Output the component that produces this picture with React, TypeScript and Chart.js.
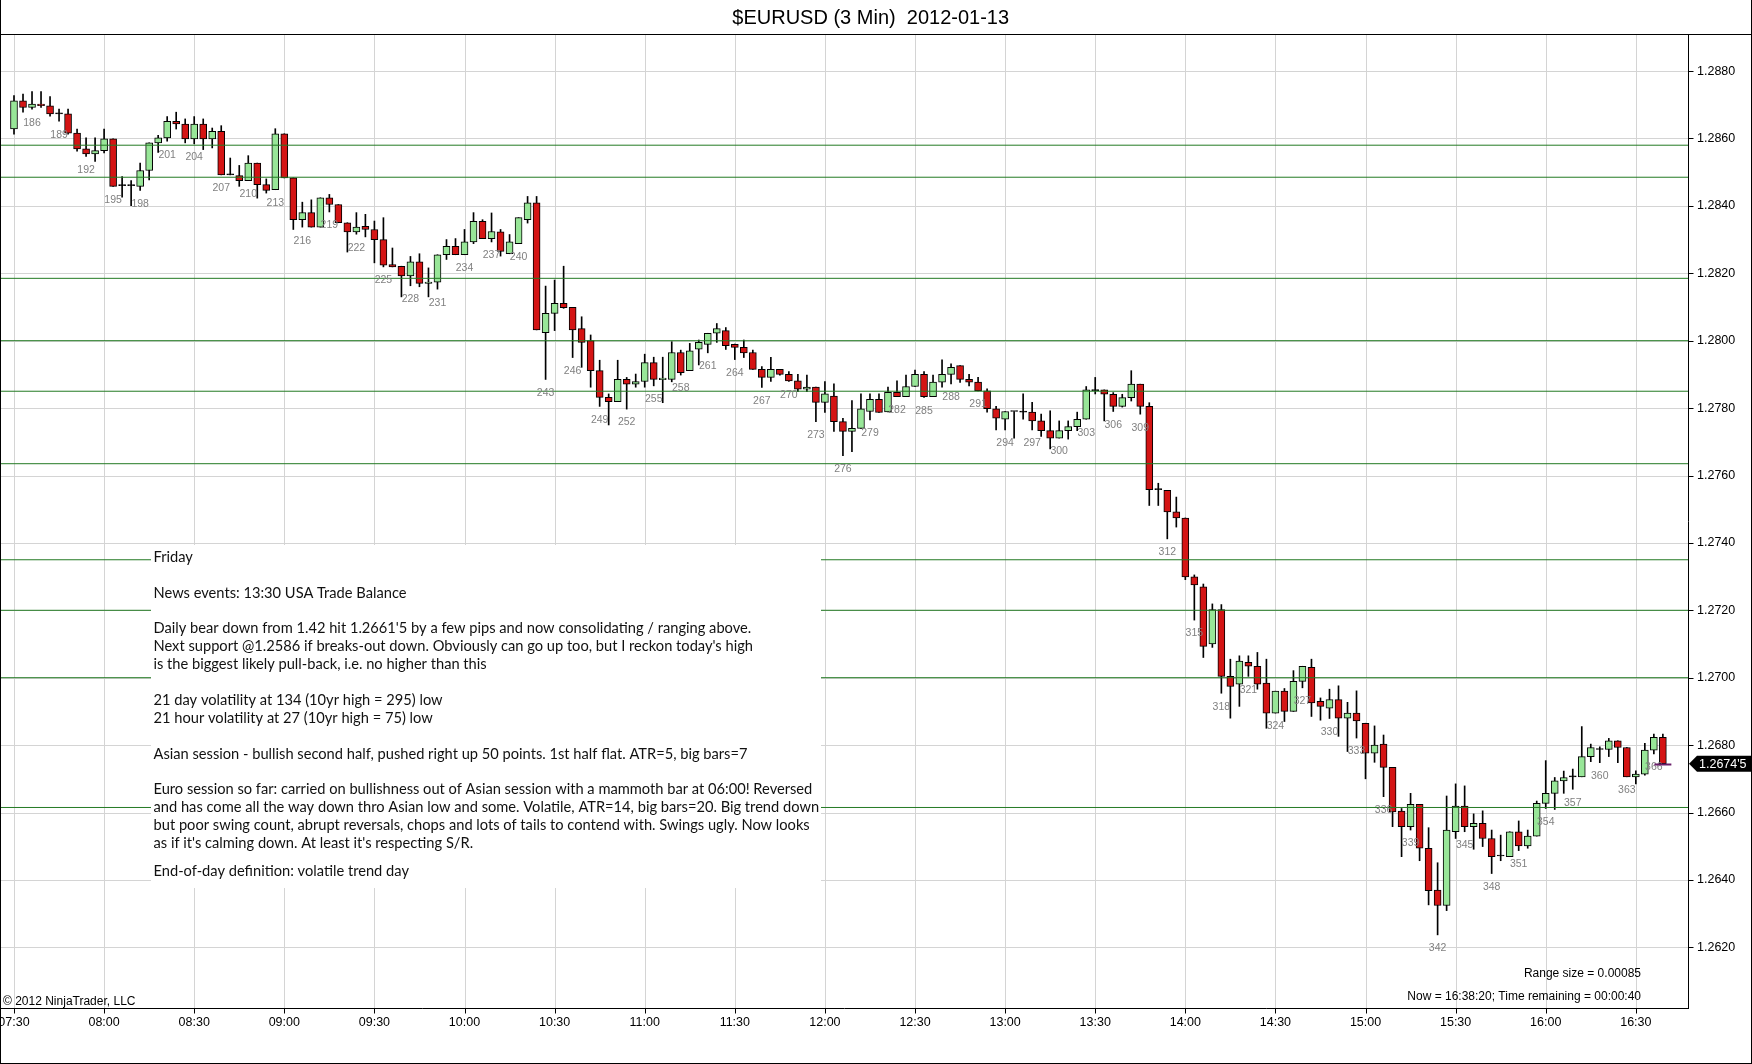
import React, { useEffect, useRef } from 'react';
import { Chart, registerables } from 'chart.js';

Chart.register(...registerables);

// ---------------- DATA ----------------
const FIRST_BAR_NUMBER = 184;
const BARS_PER_TIME_TICK = 10;

const openPrices = [
  1.28628, 1.28712, 1.28692, 1.28702, 1.28697, 1.28673, 1.28673, 1.28616, 1.28569, 1.28554,
  1.28564, 1.28599, 1.28460, 1.28460, 1.28458, 1.28505, 1.28587, 1.28602, 1.28651, 1.28643,
  1.28599, 1.28643, 1.28599, 1.28621, 1.28492, 1.28490, 1.28475, 1.28527, 1.28463, 1.28448,
  1.28614, 1.28483, 1.28359, 1.28380, 1.28337, 1.28424, 1.28404, 1.28350, 1.28323, 1.28339,
  1.28330, 1.28300, 1.28226, 1.28221, 1.28192, 1.28234, 1.28170, 1.28174, 1.28255, 1.28280,
  1.28255, 1.28293, 1.28354, 1.28303, 1.28323, 1.28258, 1.28288, 1.28359, 1.28409, 1.28024,
  1.28081, 1.28111, 1.28099, 1.28036, 1.28000, 1.27911, 1.27832, 1.27819, 1.27885, 1.27871,
  1.27879, 1.27935, 1.27884, 1.27885, 1.27965, 1.27911, 1.27975, 1.27989, 1.28022, 1.28030,
  1.27989, 1.27980, 1.27965, 1.27915, 1.27891, 1.27915, 1.27900, 1.27881, 1.27856, 1.27862,
  1.27817, 1.27836, 1.27760, 1.27731, 1.27740, 1.27790, 1.27826, 1.27789, 1.27847, 1.27834,
  1.27864, 1.27900, 1.27834, 1.27877, 1.27900, 1.27926, 1.27885, 1.27877, 1.27851, 1.27798,
  1.27767, 1.27790, 1.27788, 1.27788, 1.27762, 1.27733, 1.27711, 1.27733, 1.27745, 1.27767,
  1.27852, 1.27854, 1.27841, 1.27805, 1.27831, 1.27871, 1.27805, 1.27558, 1.27556, 1.27492,
  1.27474, 1.27299, 1.27270, 1.27100, 1.27202, 1.27004, 1.26981, 1.27046, 1.27034, 1.26984,
  1.26895, 1.26960, 1.26900, 1.26989, 1.27031, 1.26930, 1.26910, 1.26935, 1.26880, 1.26895,
  1.26865, 1.26776, 1.26803, 1.26734, 1.26604, 1.26558, 1.26624, 1.26494, 1.26370, 1.26324,
  1.26543, 1.26619, 1.26558, 1.26568, 1.26523, 1.26471, 1.26469, 1.26543, 1.26501, 1.26530,
  1.26627, 1.26657, 1.26694, 1.26706, 1.26706, 1.26766, 1.26787, 1.26787, 1.26813, 1.26793,
  1.26706, 1.26714, 1.26785, 1.26823,
];

const highPrices = [
  1.28727, 1.28732, 1.28739, 1.28739, 1.28724, 1.28687, 1.28687, 1.28628, 1.28602, 1.28602,
  1.28628, 1.28599, 1.28487, 1.28475, 1.28527, 1.28587, 1.28609, 1.28665, 1.28678, 1.28658,
  1.28665, 1.28658, 1.28631, 1.28638, 1.28542, 1.28520, 1.28549, 1.28527, 1.28480, 1.28629,
  1.28614, 1.28483, 1.28411, 1.28418, 1.28424, 1.28434, 1.28404, 1.28350, 1.28380, 1.28375,
  1.28355, 1.28365, 1.28275, 1.28221, 1.28250, 1.28258, 1.28216, 1.28255, 1.28300, 1.28303,
  1.28330, 1.28380, 1.28359, 1.28379, 1.28330, 1.28315, 1.28365, 1.28428, 1.28428, 1.28162,
  1.28180, 1.28221, 1.28099, 1.28071, 1.28017, 1.27942, 1.27842, 1.27942, 1.27891, 1.27901,
  1.27960, 1.27951, 1.27951, 1.27997, 1.27972, 1.27992, 1.28002, 1.28022, 1.28051, 1.28039,
  1.27990, 1.28002, 1.27972, 1.27923, 1.27951, 1.27915, 1.27908, 1.27900, 1.27898, 1.27862,
  1.27879, 1.27872, 1.27770, 1.27822, 1.27842, 1.27842, 1.27842, 1.27862, 1.27881, 1.27898,
  1.27913, 1.27908, 1.27898, 1.27943, 1.27931, 1.27926, 1.27900, 1.27891, 1.27857, 1.27805,
  1.27790, 1.27790, 1.27842, 1.27817, 1.27782, 1.27792, 1.27762, 1.27762, 1.27788, 1.27864,
  1.27891, 1.27854, 1.27846, 1.27841, 1.27911, 1.27871, 1.27816, 1.27577, 1.27556, 1.27536,
  1.27474, 1.27305, 1.27278, 1.27219, 1.27217, 1.27055, 1.27065, 1.27065, 1.27075, 1.27055,
  1.26960, 1.26968, 1.27021, 1.27034, 1.27055, 1.26940, 1.26966, 1.26976, 1.26927, 1.26961,
  1.26865, 1.26857, 1.26830, 1.26734, 1.26612, 1.26657, 1.26624, 1.26555, 1.26451, 1.26649,
  1.26685, 1.26679, 1.26596, 1.26605, 1.26548, 1.26533, 1.26543, 1.26575, 1.26548, 1.26634,
  1.26754, 1.26704, 1.26723, 1.26729, 1.26855, 1.26803, 1.26795, 1.26820, 1.26813, 1.26793,
  1.26724, 1.26805, 1.26833, 1.26833,
];

const lowPrices = [
  1.28613, 1.28678, 1.28687, 1.28692, 1.28666, 1.28651, 1.28613, 1.28562, 1.28547, 1.28532,
  1.28557, 1.28458, 1.28426, 1.28401, 1.28446, 1.28477, 1.28559, 1.28592, 1.28628, 1.28587,
  1.28584, 1.28567, 1.28572, 1.28492, 1.28492, 1.28458, 1.28475, 1.28423, 1.28438, 1.28448,
  1.28483, 1.28330, 1.28337, 1.28337, 1.28337, 1.28382, 1.28350, 1.28263, 1.28316, 1.28308,
  1.28231, 1.28219, 1.28219, 1.28130, 1.28163, 1.28160, 1.28130, 1.28153, 1.28241, 1.28255,
  1.28255, 1.28288, 1.28303, 1.28293, 1.28251, 1.28258, 1.28288, 1.28349, 1.28032, 1.27885,
  1.28030, 1.28096, 1.27950, 1.27921, 1.27862, 1.27805, 1.27750, 1.27819, 1.27797, 1.27862,
  1.27862, 1.27866, 1.27816, 1.27878, 1.27898, 1.27911, 1.27928, 1.27964, 1.27995, 1.27974,
  1.27944, 1.27950, 1.27915, 1.27861, 1.27879, 1.27898, 1.27879, 1.27849, 1.27849, 1.27760,
  1.27787, 1.27731, 1.27659, 1.27671, 1.27740, 1.27765, 1.27787, 1.27789, 1.27834, 1.27834,
  1.27864, 1.27832, 1.27834, 1.27862, 1.27872, 1.27876, 1.27866, 1.27851, 1.27788, 1.27735,
  1.27735, 1.27711, 1.27767, 1.27735, 1.27716, 1.27679, 1.27711, 1.27708, 1.27733, 1.27767,
  1.27842, 1.27762, 1.27790, 1.27803, 1.27821, 1.27782, 1.27511, 1.27511, 1.27412, 1.27447,
  1.27291, 1.27171, 1.27060, 1.27090, 1.26954, 1.26880, 1.26915, 1.27004, 1.26966, 1.26850,
  1.26895, 1.26870, 1.26900, 1.26970, 1.26885, 1.26874, 1.26879, 1.26826, 1.26781, 1.26821,
  1.26700, 1.26749, 1.26647, 1.26558, 1.26469, 1.26548, 1.26457, 1.26326, 1.26237, 1.26309,
  1.26523, 1.26543, 1.26491, 1.26499, 1.26419, 1.26457, 1.26469, 1.26487, 1.26494, 1.26530,
  1.26612, 1.26609, 1.26657, 1.26669, 1.26706, 1.26751, 1.26748, 1.26766, 1.26748, 1.26706,
  1.26685, 1.26711, 1.26774, 1.26745,
];

const closePrices = [
  1.28712, 1.28692, 1.28702, 1.28697, 1.28673, 1.28673, 1.28616, 1.28569, 1.28554, 1.28564,
  1.28599, 1.28458, 1.28460, 1.28460, 1.28505, 1.28587, 1.28602, 1.28651, 1.28643, 1.28599,
  1.28643, 1.28599, 1.28621, 1.28492, 1.28492, 1.28475, 1.28527, 1.28463, 1.28446, 1.28614,
  1.28483, 1.28359, 1.28380, 1.28337, 1.28424, 1.28404, 1.28350, 1.28323, 1.28337, 1.28330,
  1.28300, 1.28224, 1.28219, 1.28192, 1.28234, 1.28170, 1.28174, 1.28255, 1.28280, 1.28255,
  1.28293, 1.28354, 1.28303, 1.28324, 1.28265, 1.28293, 1.28365, 1.28409, 1.28032, 1.28081,
  1.28111, 1.28098, 1.28032, 1.27995, 1.27911, 1.27832, 1.27819, 1.27885, 1.27871, 1.27879,
  1.27935, 1.27885, 1.27889, 1.27965, 1.27905, 1.27970, 1.27995, 1.28022, 1.28036, 1.27985,
  1.27980, 1.27964, 1.27915, 1.27891, 1.27915, 1.27900, 1.27881, 1.27856, 1.27862, 1.27817,
  1.27842, 1.27760, 1.27731, 1.27740, 1.27798, 1.27826, 1.27787, 1.27847, 1.27834, 1.27864,
  1.27900, 1.27834, 1.27877, 1.27900, 1.27921, 1.27885, 1.27877, 1.27851, 1.27798, 1.27770,
  1.27790, 1.27790, 1.27788, 1.27762, 1.27733, 1.27711, 1.27733, 1.27745, 1.27767, 1.27854,
  1.27852, 1.27841, 1.27805, 1.27831, 1.27871, 1.27805, 1.27558, 1.27558, 1.27492, 1.27474,
  1.27299, 1.27275, 1.27093, 1.27202, 1.27004, 1.26974, 1.27049, 1.27034, 1.26981, 1.26895,
  1.26960, 1.26900, 1.26989, 1.27034, 1.26925, 1.26915, 1.26935, 1.26880, 1.26895, 1.26872,
  1.26776, 1.26800, 1.26734, 1.26602, 1.26558, 1.26624, 1.26494, 1.26368, 1.26324, 1.26548,
  1.26619, 1.26558, 1.26568, 1.26523, 1.26469, 1.26471, 1.26543, 1.26501, 1.26530, 1.26627,
  1.26657, 1.26694, 1.26704, 1.26706, 1.26766, 1.26793, 1.26787, 1.26813, 1.26793, 1.26706,
  1.26714, 1.26785, 1.26823, 1.26745,
];

const timeTickLabels = [
  '07:30', '08:00', '08:30', '09:00', '09:30', '10:00', '10:30', '11:00', '11:30', '12:00',
  '12:30', '13:00', '13:30', '14:00', '14:30', '15:00', '15:30', '16:00', '16:30',
];

const priceTickLabels = [
  '1.2620', '1.2640', '1.2660', '1.2680', '1.2700', '1.2720', '1.2740',
  '1.2760', '1.2780', '1.2800', '1.2820', '1.2840', '1.2860', '1.2880',
];

const srLevels = [1.2858, 1.28485, 1.28185, 1.28, 1.2785, 1.27635, 1.2735, 1.272, 1.27, 1.26615];

const lastPriceLabel = "1.2674'5";
const titleText = '$EURUSD (3 Min)  2012-01-13';
const copyrightText = '\u00A9 2012 NinjaTrader, LLC';
const rangeText = 'Range size = 0.00085';
const nowText = 'Now = 16:38:20; Time remaining = 00:00:40';

const noteLines = [
  'Friday',
  '',
  'News events: 13:30 USA Trade Balance',
  '',
  "Daily bear down from 1.42 hit 1.2661'5 by a few pips and now consolidating / ranging above.",
  "Next support @1.2586 if breaks-out down. Obviously can go up too, but I reckon today's high",
  'is the biggest likely pull-back, i.e. no higher than this',
  '',
  '21 day volatility at 134 (10yr high = 295) low',
  '21 hour volatility at 27 (10yr high = 75) low',
  '',
  'Asian session - bullish second half, pushed right up 50 points. 1st half flat. ATR=5, big bars=7',
  '',
  'Euro session so far: carried on bullishness out of Asian session with a mammoth bar at 06:00! Reversed',
  'and has come all the way down thro Asian low and some. Volatile, ATR=14, big bars=20. Big trend down',
  'but poor swing count, abrupt reversals, chops and lots of tails to contend with. Swings ugly. Now looks',
  "as if it's calming down. At least it's respecting S/R.",
];
const noteFooter = 'End-of-day definition: volatile trend day';

// ---------------- LAYOUT / STYLE ----------------
const W = 1752;
const H = 1064;
const PLOT_TOP = 34;
const PLOT_RIGHT = 1688;
const PLOT_BOTTOM = 1008;
const TICK_LEN = 5;
const X_MIN = -1.554;
const X_MAX = 185.79;
const Y_MIN = 1.2602;
const Y_MAX = 1.2891;
const FONT = '"Liberation Sans", Arial, sans-serif';
const UP = '#98e698';
const DOWN = '#d41414';
const SR_COLOR = '#237a23';
const GRID = '#d4d4d4';

const decoPlugin = {
  id: 'deco',
  beforeDraw(chart: any) {
    const ctx = chart.ctx;
    ctx.save();
    ctx.fillStyle = '#fff';
    ctx.fillRect(0, 0, chart.width, chart.height);
    ctx.restore();
  },
  beforeDatasetsDraw(chart: any) {
    const ctx = chart.ctx;
    const xs = chart.scales.x;
    const ys = chart.scales.y;
    const a = chart.chartArea;
    ctx.save();
    ctx.lineWidth = 1;
    ctx.strokeStyle = GRID;
    ctx.beginPath();
    xs.ticks.forEach((t: any) => {
      const px = Math.round(xs.getPixelForValue(t.value)) + 0.5;
      if (px < a.left || px > a.right) return;
      ctx.moveTo(px, a.top);
      ctx.lineTo(px, a.bottom);
    });
    ys.ticks.forEach((t: any) => {
      const py = Math.round(ys.getPixelForValue(t.value)) + 0.5;
      if (py < a.top || py > a.bottom) return;
      ctx.moveTo(a.left, py);
      ctx.lineTo(a.right, py);
    });
    ctx.stroke();
    ctx.strokeStyle = '#000';
    ctx.beginPath();
    xs.ticks.forEach((t: any) => {
      const px = Math.round(xs.getPixelForValue(t.value)) + 0.5;
      if (px < a.left || px > a.right) return;
      ctx.moveTo(px, a.bottom);
      ctx.lineTo(px, a.bottom + TICK_LEN + 0.5);
    });
    ys.ticks.forEach((t: any) => {
      const py = Math.round(ys.getPixelForValue(t.value)) + 0.5;
      ctx.moveTo(a.right, py);
      ctx.lineTo(a.right + TICK_LEN + 0.5, py);
    });
    ctx.moveTo(a.left, Math.round(a.bottom) + 0.5);
    ctx.lineTo(a.right + 1, Math.round(a.bottom) + 0.5);
    ctx.moveTo(Math.round(a.right) + 0.5, a.top);
    ctx.lineTo(Math.round(a.right) + 0.5, a.bottom + 1);
    ctx.stroke();
    ctx.restore();
  },
  afterDatasetsDraw(chart: any) {
    const ctx = chart.ctx;
    const xs = chart.scales.x;
    const ys = chart.scales.y;
    const area = chart.chartArea;
    ctx.save();
    ctx.beginPath();
    ctx.rect(area.left, area.top, area.right - area.left, area.bottom - area.top);
    ctx.clip();
    ctx.fillStyle = '#808080';
    ctx.font = `10.5px ${FONT}`;
    ctx.textAlign = 'center';
    ctx.textBaseline = 'middle';
    lowPrices.forEach((lo, i) => {
      const n = FIRST_BAR_NUMBER + i;
      if (n % 3 !== 0) return;
      ctx.fillText(String(n), xs.getPixelForValue(i), ys.getPixelForValue(lo) + 13.5);
    });
    const last = closePrices.length - 1;
    const lx = xs.getPixelForValue(last);
    const ly = Math.round(ys.getPixelForValue(closePrices[last])) + 0.5;
    ctx.strokeStyle = '#6b1f6b';
    ctx.lineWidth = 2;
    ctx.beginPath();
    ctx.moveTo(lx - 8.5, ly);
    ctx.lineTo(lx + 8.5, ly);
    ctx.stroke();
    ctx.restore();

    // note box
    ctx.save();
    ctx.fillStyle = '#fff';
    ctx.fillRect(151, 545, 670, 343);
    const target = 659;
    ctx.font = `100px Lato, ${FONT}`;
    const w = ctx.measureText(noteLines[13]).width;
    const size = (100 * target) / w;
    ctx.font = `${size}px Lato, ${FONT}`;
    ctx.fillStyle = '#111';
    ctx.textAlign = 'left';
    ctx.textBaseline = 'alphabetic';
    const lh = 17.9;
    noteLines.forEach((t, k) => {
      if (t) ctx.fillText(t, 153.5, 561.7 + k * lh);
    });
    ctx.fillText(noteFooter, 153.5, 561.7 + (noteLines.length + 0.55) * lh);
    ctx.restore();
  },
  afterDraw(chart: any) {
    const ctx = chart.ctx;
    const ys = chart.scales.y;
    ctx.save();
    ctx.strokeStyle = '#000';
    ctx.lineWidth = 1;
    ctx.beginPath();
    ctx.moveTo(0.5, 0);
    ctx.lineTo(0.5, H);
    ctx.moveTo(W - 0.5, 0);
    ctx.lineTo(W - 0.5, H);
    ctx.moveTo(0, H - 0.5);
    ctx.lineTo(W, H - 0.5);
    ctx.moveTo(0, PLOT_TOP + 0.5);
    ctx.lineTo(W, PLOT_TOP + 0.5);
    ctx.stroke();
    ctx.fillStyle = '#000';
    ctx.font = `20px ${FONT}`;
    ctx.textAlign = 'center';
    ctx.textBaseline = 'alphabetic';
    ctx.fillText(titleText, 870.7, 24);
    ctx.font = `12px ${FONT}`;
    ctx.textAlign = 'left';
    ctx.fillText(copyrightText, 3, 1005);
    ctx.textAlign = 'right';
    ctx.fillText(rangeText, 1641, 977);
    ctx.fillText(nowText, 1641, 999.5);
    const last = closePrices.length - 1;
    const py = ys.getPixelForValue(closePrices[last]);
    ctx.fillStyle = '#000';
    ctx.beginPath();
    ctx.moveTo(PLOT_RIGHT + 1, py);
    ctx.lineTo(PLOT_RIGHT + 9, py - 8);
    ctx.lineTo(W, py - 8);
    ctx.lineTo(W, py + 8);
    ctx.lineTo(PLOT_RIGHT + 9, py + 8);
    ctx.closePath();
    ctx.fill();
    ctx.fillStyle = '#fff';
    ctx.font = `12.5px ${FONT}`;
    ctx.textAlign = 'left';
    ctx.textBaseline = 'middle';
    ctx.fillText(lastPriceLabel, PLOT_RIGHT + 11, py + 0.5);
    ctx.restore();
  },
};

export default function App() {
  const ref = useRef<HTMLCanvasElement | null>(null);

  useEffect(() => {
    if (!ref.current) return;
    const idx = openPrices.map((_, i) => i);
    const bodyColors = idx.map((i) =>
      closePrices[i] > openPrices[i] ? UP : closePrices[i] < openPrices[i] ? DOWN : '#000'
    );
    const srDatasets = srLevels.map((lvl) => ({
      type: 'line' as const,
      data: [
        { x: X_MIN, y: lvl },
        { x: X_MAX, y: lvl },
      ],
      borderColor: SR_COLOR,
      backgroundColor: SR_COLOR,
      borderWidth: 1,
      pointRadius: 0,
      fill: false,
      order: 0,
    }));
    const chart = new Chart(ref.current, {
      type: 'bar',
      data: {
        datasets: [
          {
            type: 'bar',
            label: 'wick',
            data: idx.map((i) => ({ x: i, y: [lowPrices[i], highPrices[i]] })),
            backgroundColor: '#000',
            borderWidth: 0,
            barThickness: 1,
            grouped: false,
            order: 2,
          } as any,
          {
            type: 'bar',
            label: 'body',
            data: idx.map((i) => ({ x: i, y: [openPrices[i], closePrices[i]] })),
            backgroundColor: bodyColors,
            borderColor: '#000',
            borderWidth: 1,
            borderSkipped: false,
            barThickness: 7,
            minBarLength: 1,
            grouped: false,
            order: 1,
          } as any,
          ...(srDatasets as any[]),
        ],
      },
      options: {
        animation: false,
        responsive: false,
        devicePixelRatio: 1,
        layout: { padding: { top: PLOT_TOP, left: 0, right: 0, bottom: 1 } },
        plugins: {
          legend: { display: false },
          tooltip: { enabled: false },
          title: { display: false },
        },
        scales: {
          x: {
            type: 'linear',
            min: X_MIN,
            max: X_MAX,
            offset: false,
            grid: { display: false, drawTicks: true, tickLength: TICK_LEN, offset: false },
            border: { display: false },
            ticks: {
              autoSkip: false,
              maxRotation: 0,
              minRotation: 0,
              includeBounds: false,
              color: '#000',
              padding: 2,
              font: { size: 12.5, family: FONT },
              callback: (_v: any, i: number) => timeTickLabels[i],
            },
            afterBuildTicks: (s: any) => {
              s.ticks = timeTickLabels.map((_, k) => ({ value: k * BARS_PER_TIME_TICK }));
            },
            afterFit: (s: any) => {
              s.height = H - 1 - PLOT_BOTTOM;
              s.paddingLeft = 0;
              s.paddingRight = 0;
            },
          },
          y: {
            type: 'linear',
            position: 'right',
            min: Y_MIN,
            max: Y_MAX,
            grid: { display: false, drawTicks: true, tickLength: TICK_LEN, offset: false },
            border: { display: false },
            ticks: {
              color: '#000',
              padding: 4,
              font: { size: 12.5, family: FONT },
              callback: (_v: any, i: number) => priceTickLabels[i],
            },
            afterBuildTicks: (s: any) => {
              s.ticks = priceTickLabels.map((t) => ({ value: parseFloat(t) }));
            },
            afterFit: (s: any) => {
              s.width = W - PLOT_RIGHT;
              s.paddingTop = 0;
              s.paddingBottom = 0;
            },
          },
        },
      } as any,
      plugins: [decoPlugin],
    });
    return () => chart.destroy();
  }, []);

  return (
    <div style={{ position: 'fixed', left: 0, top: 0, width: W, height: H, background: '#fff' }}>
      <canvas ref={ref} width={W} height={H} style={{ display: 'block', width: W, height: H }} />
    </div>
  );
}
